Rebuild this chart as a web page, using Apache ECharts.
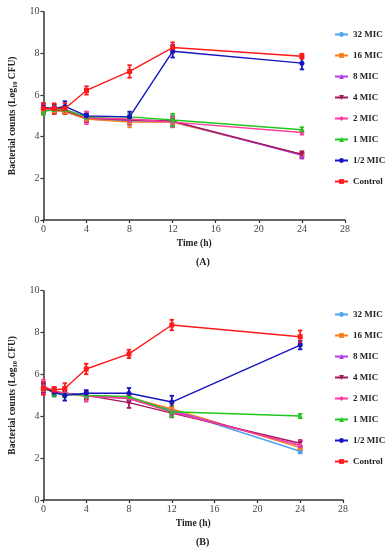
<!DOCTYPE html>
<html><head><meta charset="utf-8">
<script src="https://cdn.jsdelivr.net/npm/echarts@6/dist/echarts.min.js"></script>
<style>html,body{margin:0;padding:0;background:#fff}#c{width:388px;height:550px}</style>
</head><body><div id="c"></div>
<script>
var times = [0, 1, 2, 4, 8, 12, 24];
var seriesNames = ['32 MIC', '16 MIC', '8 MIC', '4 MIC', '2 MIC', '1 MIC', '1/2 MIC', 'Control'];
var xTicks = [0, 4, 8, 12, 16, 20, 24, 28];
var yTicks = [0, 2, 4, 6, 8, 10];

// Panel A values
var a32 = [5.30, 5.25, 5.20, 4.85, 4.75, 4.70, 3.15];
var a16 = [5.30, 5.25, 5.20, 4.85, 4.70, 4.70, 3.15];
var a8  = [5.35, 5.30, 5.30, 4.95, 4.80, 4.75, 3.10];
var a4  = [5.35, 5.30, 5.25, 4.90, 4.80, 4.75, 3.15];
var a2  = [5.30, 5.30, 5.30, 4.90, 4.85, 4.70, 4.20];
var a1  = [5.20, 5.30, 5.30, 4.95, 4.95, 4.80, 4.33];
var aHalf = [5.40, 5.35, 5.45, 5.00, 4.95, 8.10, 7.53];
var aCtrl = [5.36, 5.35, 5.35, 6.22, 7.13, 8.28, 7.86];
// Panel A errors
var a32e = [0.15, 0.15, 0.10, 0.15, 0.20, 0.20, 0.10];
var a16e = [0.15, 0.15, 0.10, 0.15, 0.25, 0.20, 0.10];
var a8e  = [0.20, 0.20, 0.15, 0.25, 0.20, 0.25, 0.15];
var a4e  = [0.15, 0.15, 0.15, 0.20, 0.20, 0.20, 0.15];
var a2e  = [0.20, 0.20, 0.15, 0.30, 0.20, 0.25, 0.10];
var a1e  = [0.15, 0.15, 0.15, 0.10, 0.15, 0.30, 0.12];
var aHalfe = [0.20, 0.20, 0.25, 0.10, 0.25, 0.30, 0.30];
var aCtrle = [0.25, 0.25, 0.25, 0.20, 0.30, 0.25, 0.12];

// Panel B values
var b32 = [5.30, 5.20, 5.10, 5.00, 4.90, 4.30, 2.33];
var b16 = [5.30, 5.20, 5.10, 5.00, 4.90, 4.35, 2.50];
var b8  = [5.35, 5.15, 5.10, 5.00, 4.85, 4.25, 2.60];
var b4  = [5.40, 5.15, 5.10, 5.00, 4.65, 4.15, 2.71];
var b2  = [5.45, 5.20, 5.10, 4.95, 4.85, 4.20, 2.62];
var b1  = [5.40, 5.10, 5.05, 5.00, 4.95, 4.22, 4.01];
var bHalf = [5.35, 5.15, 5.00, 5.10, 5.10, 4.68, 7.40];
var bCtrl = [5.33, 5.25, 5.33, 6.26, 6.98, 8.36, 7.80];
// Panel B errors
var b32e = [0.20, 0.15, 0.15, 0.15, 0.20, 0.20, 0.10];
var b16e = [0.20, 0.15, 0.15, 0.15, 0.20, 0.20, 0.10];
var b8e  = [0.30, 0.20, 0.15, 0.20, 0.20, 0.20, 0.20];
var b4e  = [0.20, 0.15, 0.15, 0.20, 0.25, 0.20, 0.15];
var b2e  = [0.30, 0.20, 0.15, 0.25, 0.20, 0.20, 0.20];
var b1e  = [0.20, 0.15, 0.15, 0.10, 0.15, 0.25, 0.10];
var bHalfe = [0.20, 0.15, 0.25, 0.15, 0.25, 0.30, 0.20];
var bCtrle = [0.30, 0.15, 0.25, 0.25, 0.20, 0.25, 0.30];

var colors = ['#4ea3f2', '#ff7a1e', '#b43ce6', '#a0185a', '#ff3c9e', '#1ec81e', '#1414c0', '#ff1a1a'];
var symbols = ['circle', 'rect', 'triangle', 'path://M0,0 L10,0 L5,10 Z', 'diamond', 'triangle', 'circle', 'rect'];

var panelA = [a32, a16, a8, a4, a2, a1, aHalf, aCtrl];
var panelAe = [a32e, a16e, a8e, a4e, a2e, a1e, aHalfe, aCtrle];
var panelB = [b32, b16, b8, b4, b2, b1, bHalf, bCtrl];
var panelBe = [b32e, b16e, b8e, b4e, b2e, b1e, bHalfe, bCtrle];

var serif = '"Liberation Serif", "DejaVu Serif", serif';

function buildSeries(vals, errs, idx) {
  var lines = [], bars = [];
  for (var i = 0; i < seriesNames.length; i++) {
    var pts = times.map(function (t, k) { return [t, vals[i][k]]; });
    var errPts = times.map(function (t, k) { return [t, vals[i][k] - errs[i][k], vals[i][k] + errs[i][k]]; });
    lines.push({
      type: 'line', name: seriesNames[i], xAxisIndex: idx, yAxisIndex: idx,
      data: pts, symbol: symbols[i], symbolSize: 5, showSymbol: true,
      lineStyle: { width: 1.4, color: colors[i] },
      itemStyle: { color: colors[i] }, z: 4 + i * 0.01, animation: false
    });
    bars.push({
      type: 'custom', name: seriesNames[i], xAxisIndex: idx, yAxisIndex: idx,
      data: errPts, z: 3, silent: true,
      encode: { x: 0, y: [1, 2] },
      renderItem: (function (col) {
        return function (params, api) {
          var x = api.value(0);
          var lo = api.coord([x, api.value(1)]);
          var hi = api.coord([x, api.value(2)]);
          var w = 2.2;
          var st = { stroke: col, lineWidth: 1.8 };
          return { type: 'group', children: [
            { type: 'line', shape: { x1: lo[0], y1: lo[1], x2: hi[0], y2: hi[1] }, style: st },
            { type: 'line', shape: { x1: lo[0] - w, y1: lo[1], x2: lo[0] + w, y2: lo[1] }, style: st },
            { type: 'line', shape: { x1: hi[0] - w, y1: hi[1], x2: hi[0] + w, y2: hi[1] }, style: st }
          ]};
        };
      })(colors[i])
    });
  }
  return lines.concat(bars);
}

function xAxisCfg(idx) {
  return {
    type: 'value', gridIndex: idx, min: 0, max: 28, interval: 4,
    name: 'Time (h)', nameLocation: 'middle', nameGap: 19,
    nameTextStyle: { fontFamily: serif, fontWeight: 'bold', fontSize: 9.5, color: '#222' },
    axisLine: { show: true, onZero: false, lineStyle: { color: '#333', width: 1.5 } },
    axisTick: { show: true, inside: false, length: 3, lineStyle: { color: '#333', width: 1.2 } },
    axisLabel: { fontFamily: serif, fontSize: 10, color: '#444', margin: 4 },
    splitLine: { show: false }
  };
}
function yAxisCfg(idx) {
  return {
    type: 'value', gridIndex: idx, min: 0, max: 10, interval: 2,
    name: '{t|Bacterial counts (Log}{s|10}{t| CFU)}', nameLocation: 'middle', nameGap: 23,
    nameTextStyle: { rich: {
      t: { fontFamily: serif, fontWeight: 'bold', fontSize: 9.5, color: '#222' },
      s: { fontFamily: serif, fontWeight: 'bold', fontSize: 6.5, color: '#222', verticalAlign: 'bottom', padding: [4, 0, 0, 0] }
    } },
    axisLine: { show: true, lineStyle: { color: '#333', width: 1.5 } },
    axisTick: { show: true, inside: false, length: 3, lineStyle: { color: '#333', width: 1.2 } },
    axisLabel: { fontFamily: serif, fontSize: 10, color: '#444', margin: 4 },
    splitLine: { show: false }
  };
}
function legendCfg(top) {
  return {
    orient: 'vertical', left: 329, top: top, itemGap: 12, itemWidth: 13, itemHeight: 6,
    data: seriesNames,
    textStyle: { fontFamily: serif, fontWeight: 'bold', fontSize: 9, color: '#222' },
    selectedMode: false
  };
}

var chart = echarts.init(document.getElementById('c'), null, { renderer: 'canvas' });
chart.setOption({
  animation: false,
  backgroundColor: '#fff',
  color: colors,
  grid: [
    { left: 33, top: 11.7, width: 312, height: 208.3 },
    { left: 32, top: 290.7, width: 311, height: 209.3 }
  ],
  xAxis: [xAxisCfg(0), xAxisCfg(1)],
  yAxis: [yAxisCfg(0), yAxisCfg(1)],
  legend: [legendCfg(25), legendCfg(305)],
  graphic: [
    { type: 'text', left: 196, top: 257, style: { text: '(A)', font: 'bold 10px ' + serif, fill: '#222' } },
    { type: 'text', left: 196, top: 537, style: { text: '(B)', font: 'bold 10px ' + serif, fill: '#222' } }
  ],
  series: buildSeries(panelA, panelAe, 0).concat(buildSeries(panelB, panelBe, 1))
});
</script></body></html>
